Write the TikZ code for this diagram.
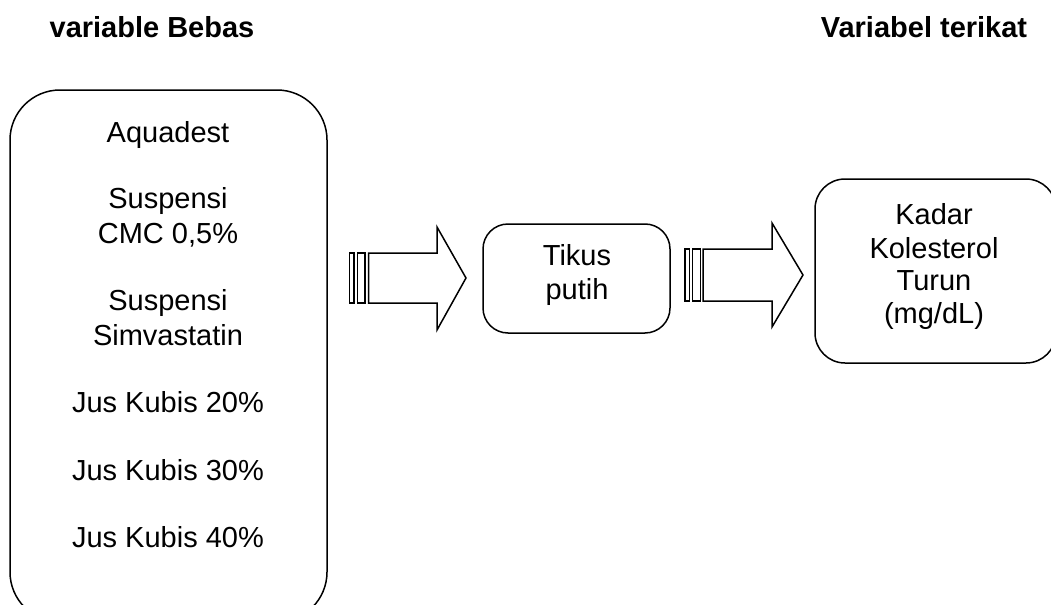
\documentclass[tikz,border=0pt]{standalone}
\usepackage{fontspec}
\setmainfont{Liberation Sans}
\begin{document}
\begin{tikzpicture}[x=0.5pt,y=-0.5pt,
  box/.style={draw=black,line width=0.75pt},
  txt/.style={anchor=base,inner sep=0pt,font=\fontsize{14.5}{16}\selectfont},
  head/.style={anchor=base,inner sep=0pt,font=\fontsize{14.5}{16}\selectfont\bfseries},
  blockarrow/.style={draw=black,line width=0.75pt,fill=white}]
\useasboundingbox (0,0) rectangle (1051,605);
\clip (0,0) rectangle (1051,605);
% headings
\node[head] (hbebas) at (152,37) {variable Bebas};
\node[head] (hterikat) at (924,37) {Variabel terikat};
% left box
\draw[box,rounded corners=25pt] (10,90) rectangle (327,622);
\node[txt] (t1) at (168,142) {Aquadest};
\node[txt] (t2) at (168,208) {Suspensi};
\node[txt] (t3) at (168,243) {CMC 0,5\%};
\node[txt] (t4) at (168,310) {Suspensi};
\node[txt] (t5) at (168,345) {Simvastatin};
\node[txt] (t6) at (168,412) {Jus Kubis 20\%};
\node[txt] (t7) at (168,480) {Jus Kubis 30\%};
\node[txt] (t8) at (168,547) {Jus Kubis 40\%};
% arrow 1
\draw[box] (349.5,253) rectangle (354,303);
\draw[box] (357.5,253) rectangle (365,303);
\draw[blockarrow] (368.5,253) -- (437,253) -- (437,227) -- (466,278) -- (437,330) -- (437,303) -- (368.5,303) -- cycle;
% middle box
\draw[box,rounded corners=12.5pt] (483,224) rectangle (670,333);
\node[txt] (m1) at (577,265) {Tikus};
\node[txt] (m2) at (577,299) {putih};
% arrow 2
\draw[box] (685,249) rectangle (689.5,301);
\draw[box] (692.5,249) rectangle (700.5,301);
\draw[blockarrow] (703,249) -- (772,249) -- (772,223) -- (803,275) -- (772,327) -- (772,301) -- (703,301) -- cycle;
% right box
\draw[box,rounded corners=15pt] (815,179) rectangle (1056,363);
\node[txt] (r1) at (934,224) {Kadar};
\node[txt] (r2) at (934,258) {Kolesterol};
\node[txt] (r3) at (934,290) {Turun};
\node[txt] (r4) at (934,323) {(mg/dL)};
\end{tikzpicture}
\end{document}
